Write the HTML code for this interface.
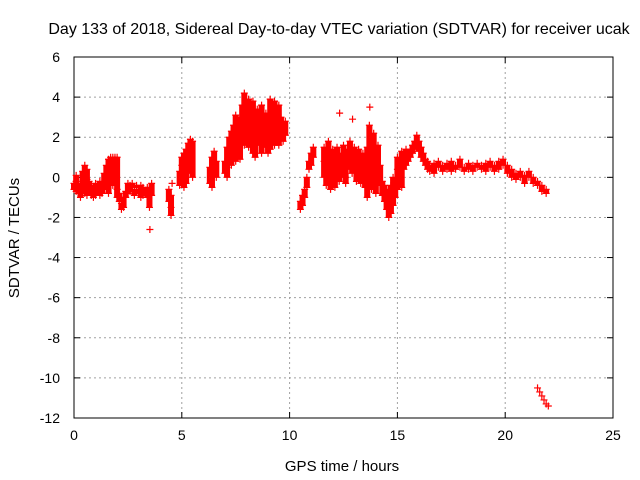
<!DOCTYPE html>
<html><head><meta charset="utf-8"><style>
body{margin:0;background:#fff;}
svg{display:block;font-family:"Liberation Sans",sans-serif;font-size:14px;}
</style></head><body>
<svg id="chart" width="640" height="480" viewBox="0 0 640 480">
<rect width="640" height="480" fill="#fff"/>
<text x="339" y="34" text-anchor="middle" font-size="16">Day 133 of 2018, Sidereal Day-to-day VTEC variation (SDTVAR) for receiver ucak</text>
<text x="342" y="471" text-anchor="middle" font-size="15">GPS time / hours</text>
<text transform="translate(19,238) rotate(-90)" text-anchor="middle" font-size="15">SDTVAR / TECUs</text>
<g id="grid"></g><g id="axes"></g><g id="marks"></g>
</svg>
<script>
const xTicks=[0,5,10,15,20,25];
const yTicks=[6,4,2,0,-2,-4,-6,-8,-10,-12];
const sampleTimes=[0.0,0.1,0.2,0.3,0.4,0.5,0.6,0.7,0.8,0.9,1.0,1.1,1.2,1.3,1.4,1.5,1.6,1.7,1.8,1.9,2.0,2.1,2.2,2.3,2.4,2.5,2.6,2.7,2.8,2.9,3.0,3.1,3.2,
3.4,3.5,3.52,3.6,4.4,4.5,4.55,4.9,5.0,5.1,5.2,5.3,5.4,5.5,6.3,6.4,6.5,6.6,
7.0,7.1,7.2,7.3,7.4,7.5,7.6,7.7,7.8,7.9,8.0,8.1,8.2,8.3,8.4,8.5,8.6,8.7,8.8,8.9,9.0,9.1,9.2,9.3,9.4,9.5,9.6,9.7,9.8,
10.5,10.6,10.7,10.8,10.9,11.0,11.1,
11.6,11.7,11.8,11.9,12.0,12.1,12.2,12.3,12.32,12.4,12.5,12.6,12.7,12.8,12.9,12.92,13.0,13.1,13.2,13.3,13.4,13.5,13.6,13.7,13.72,13.8,13.9,14.0,14.1,14.2,14.3,14.4,14.5,14.6,14.7,14.8,14.9,
15.0,15.1,15.2,15.3,15.4,15.5,15.6,15.7,15.8,15.9,16.0,16.1,16.2,16.3,16.4,16.5,16.7,16.9,17.1,17.3,17.5,17.7,17.9,18.1,18.3,18.5,18.7,18.9,19.1,19.3,19.5,19.7,19.9,20.1,20.3,20.5,20.7,20.9,21.1,21.3,21.5,21.7,21.9,
21.5,21.6,21.7,21.8,21.9,22.0];
const sampleValues=[[-0.3,-0.6],[-0.2,-0.7,0.1],[-0.4,-0.8],[-0.5,-0.3,-1.0],[0.3,-0.6],[0.6,0.2,-0.8],[0.4,-0.1,-0.9],[-0.2,-0.6],[-0.4,-0.9],[-0.5,-1.0],[-0.6,-0.3,-0.9],[-0.7,-0.4],[-0.5,-0.9,-0.2],[-0.3,-0.8],[0.2,-0.6],[0.6,-0.5],[0.9,0.4,-0.8],[1.0,0.7],[1.0,0.8,-0.4],[1.0,0.9],[1.0,-0.6,-1.0],[-1.2,-0.8],[-1.6,-1.3],[-1.5,-1.0],[-0.7,-1.0],[-0.3,-0.8],[-0.4,-0.7],[-0.5,-0.3],[-0.6,-0.9],[-0.5,-0.4],[-0.6,-0.8],[-0.4,-1.0],[-0.9,-0.5],
[-0.5,-1.0],[-0.8,-1.5],[-2.6],[-0.3,-0.9],[-0.6,-1.2],[-0.9,-1.9,-1.5],[-0.3],[-0.4,0.3],[0.6,-0.2,1.0],[0.2,1.2,-0.5],[1.4,0.5,-0.3],[1.7,0.8],[1.9,0.2],[1.8,0.0],[-0.3,0.5],[1.0,-0.5,0.2],[1.3,0.6],[0.8,0.0],
[0.2,0.8],[0.5,1.5,0.0],[1.2,2.0],[1.6,0.6,2.3],[1.0,2.6],[2.0,0.8,3.1],[1.4,2.5],[1.8,3.0,0.9],[2.5,3.6],[3.0,4.2,1.6],[3.6,2.2],[2.8,1.5,3.9],[1.8,3.2],[1.2,2.6,3.8],[2.2,1.0],[3.4,1.6,2.6],[2.0,3.0],[1.2,2.4,3.6],[1.8,2.8],[2.2,1.5,3.2],[1.2,2.6],[3.9,2.0,1.4],[2.4,3.4],[1.6,3.8,2.6],[2.0,3.0],[1.6,2.6,3.6],[2.2,3.0],[1.8,2.6],[2.1,2.8],
[-1.2,-1.6],[-0.9,-1.4],[-0.6,-1.0],[0.0,-0.5],[0.4,0.8],[0.6,1.2],[1.0,1.5],
[0.0,0.8,1.5],[-0.4,1.2,0.4],[1.8,0.2,-0.2],[1.0,-0.6,0.5],[0.0,1.4],[0.6,-0.5,1.1],[1.5,0.2],[0.8,-0.2],[3.2],[1.2,0.0],[0.6,1.6],[0.0,1.0,-0.3],[1.4,0.4],[0.8,1.8],[0.2,1.2],[2.9],[0.6,1.5],[-0.2,1.0],[0.5,1.4,0.0],[1.0,-0.3],[0.2,1.2],[-0.5,0.8],[1.5,-1.0,0.2],[2.6,0.6],[3.5],[1.8,-0.6],[0.8,2.2,-0.2],[1.2,-0.8],[0.2,1.6],[-0.4,0.6],[-0.9,-0.2],[-1.2,-0.4],[-1.6,-0.6],[-2.0,-1.0],[-1.8,-0.4],[-1.4,0.0],[-0.6,-1.0],
[0.4,-0.6,1.0],[0.8,0.0],[1.3,-0.5],[1.0,0.4],[0.6,1.4],[0.8,1.2],[1.0,1.4],[1.2,1.6],[1.4,1.8],[1.6,2.1],[1.8,1.3],[1.5,1.0],[1.2,0.8],[0.9,0.6],[0.8,0.4],[0.6,0.3],[0.7,0.2],[0.5,0.8],[0.6,0.3],[0.7,0.4],[0.8,0.3],[0.6,0.4],[0.9,0.5],[0.5,0.3],[0.7,0.4],[0.6,0.3],[0.5,0.7],[0.6,0.4],[0.7,0.3],[0.5,0.8],[0.6,0.3],[0.8,0.4],[0.9,0.6],[0.6,0.2],[0.4,0.0],[0.2,-0.1],[0.3,0.0],[0.1,-0.3],[0.3,0.0],[0.0,-0.3],[-0.2,-0.4],[-0.4,-0.7],[-0.6,-0.8],
[-10.5],[-10.7],[-10.9],[-11.1],[-11.3],[-11.4]];

const L=74,R=613,T=57,B=418,X0=0,X1=25,Y0=-12,Y1=6;
const xs=v=>L+(v-X0)/(X1-X0)*(R-L);
const ys=v=>B-(v-Y0)/(Y1-Y0)*(B-T);
const NS='http://www.w3.org/2000/svg';
function mk(tag,attrs,parent){const e=document.createElementNS(NS,tag);for(const k in attrs)e.setAttribute(k,attrs[k]);parent.appendChild(e);return e;}
const grid=document.getElementById('grid'),axes=document.getElementById('axes'),marks=document.getElementById('marks');
xTicks.forEach(t=>{const x=xs(t);
 if(t>X0&&t<X1){const g=mk('line',{x1:x,y1:T,x2:x,y2:B,stroke:'#a0a0a0','stroke-dasharray':'2,3'},grid);
 
 }
 mk('line',{x1:x,y1:B,x2:x,y2:B-6,stroke:'#000'},axes);mk('line',{x1:x,y1:T,x2:x,y2:T+6,stroke:'#000'},axes);
 const lb=mk('text',{x:x,y:B+22,'text-anchor':'middle'},axes);lb.textContent=t;
 
 });
yTicks.forEach(t=>{const y=ys(t);
 if(t>Y0&&t<Y1){const g=mk('line',{x1:L,y1:y,x2:R,y2:y,stroke:'#a0a0a0','stroke-dasharray':'2,3'},grid);
 
 }
 mk('line',{x1:L,y1:y,x2:L+6,y2:y,stroke:'#000'},axes);mk('line',{x1:R,y1:y,x2:R-6,y2:y,stroke:'#000'},axes);
 const lb=mk('text',{x:L-14,y:y+5,'text-anchor':'end'},axes);lb.textContent=t;
 
 });
const frame=mk('rect',{x:L,y:T,width:R-L,height:B-T,fill:'none',stroke:'#000'},axes);


sampleTimes.forEach((t,i)=>{const vals=sampleValues[i];const x=xs(t);
 if(vals.length>1){const mn=Math.min(...vals),mx=Math.max(...vals);
  const band=mk('line',{x1:x,y1:ys(mx),x2:x,y2:ys(mn),stroke:'#f00','stroke-width':6},marks);
  
  }
 vals.forEach(v=>{const y=ys(v);
  const p=mk('path',{d:`M${x-3.5},${y}H${x+3.5}M${x},${y-3.5}V${y+3.5}`,stroke:'#f00','stroke-width':1.2},marks);
  
  });});
</script>
</body></html>
